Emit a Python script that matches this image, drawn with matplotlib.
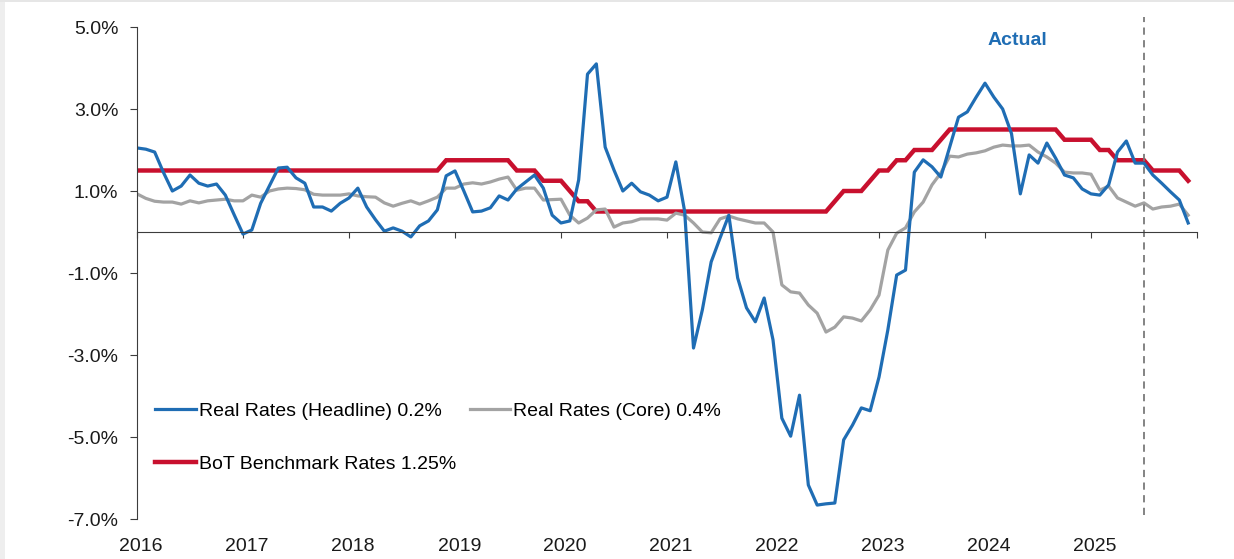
import matplotlib
matplotlib.use("Agg")
import matplotlib.pyplot as plt
from matplotlib.patches import Rectangle
import numpy as np

plt.rcParams['font.family'] = ['Liberation Sans', 'DejaVu Sans']

# monthly values, Jan 2016 .. Dec 2025 (%)
headline = [
    2.05, 2.02, 1.95, 1.45, 1.00, 1.12, 1.39, 1.19, 1.12, 1.17, 0.90, 0.42,   # 2016
    -0.05, 0.05, 0.70, 1.13, 1.56, 1.58, 1.32, 1.19, 0.61, 0.61, 0.51, 0.70,  # 2017
    0.83, 1.07, 0.61, 0.30, 0.02, 0.10, 0.02, -0.12, 0.15, 0.27, 0.54, 1.37,  # 2018
    1.49, 1.00, 0.49, 0.51, 0.59, 0.88, 0.78, 1.05, 1.22, 1.39, 1.07, 0.41,   # 2019
    0.22, 0.27, 1.27, 3.85, 4.10, 2.07, 1.51, 1.00, 1.19, 0.98, 0.90, 0.76,   # 2020
    0.85, 1.71, 0.50, -2.83, -1.90, -0.73, -0.15, 0.41, -1.12, -1.85, -2.19, -1.61,  # 2021
    -2.63, -4.54, -4.98, -3.98, -6.17, -6.66, -6.63, -6.61, -5.07, -4.71, -4.29, -4.36,  # 2022
    -3.54, -2.39, -1.05, -0.93, 1.46, 1.76, 1.59, 1.34, 2.07, 2.80, 2.93, 3.29,  # 2023
    3.63, 3.29, 3.00, 2.40, 0.93, 1.88, 1.68, 2.17, 1.80, 1.39, 1.32, 1.05,   # 2024
    0.93, 0.90, 1.15, 1.95, 2.22, 1.68, 1.68, 1.39, 1.19, 0.98, 0.78, 0.22,   # 2025
]
core = [
    0.93, 0.82, 0.75, 0.73, 0.73, 0.68, 0.76, 0.71, 0.76, 0.78, 0.80, 0.76,   # 2016
    0.76, 0.90, 0.85, 1.00, 1.05, 1.07, 1.06, 1.03, 0.92, 0.90, 0.90, 0.90,   # 2017
    0.93, 0.88, 0.86, 0.85, 0.71, 0.63, 0.70, 0.76, 0.68, 0.76, 0.85, 1.07,   # 2018
    1.07, 1.17, 1.20, 1.17, 1.22, 1.29, 1.34, 1.02, 1.07, 1.07, 0.78, 0.79,   # 2019
    0.80, 0.41, 0.22, 0.34, 0.54, 0.56, 0.12, 0.22, 0.25, 0.32, 0.32, 0.32,   # 2020
    0.29, 0.46, 0.41, 0.22, 0.00, -0.02, 0.32, 0.39, 0.32, 0.27, 0.22, 0.22,  # 2021
    0.00, -1.29, -1.46, -1.49, -1.78, -1.98, -2.44, -2.32, -2.07, -2.10, -2.17, -1.90,  # 2022
    -1.54, -0.44, -0.03, 0.10, 0.49, 0.73, 1.15, 1.44, 1.85, 1.83, 1.90, 1.93,  # 2023
    1.98, 2.07, 2.12, 2.10, 2.10, 2.12, 1.95, 1.83, 1.68, 1.46, 1.44, 1.44,   # 2024
    1.41, 1.02, 1.12, 0.83, 0.73, 0.63, 0.71, 0.56, 0.61, 0.63, 0.68, 0.41,   # 2025
]
bot_rate = [
    1.50, 1.50, 1.50, 1.50, 1.50, 1.50, 1.50, 1.50, 1.50, 1.50, 1.50, 1.50,   # 2016
    1.50, 1.50, 1.50, 1.50, 1.50, 1.50, 1.50, 1.50, 1.50, 1.50, 1.50, 1.50,   # 2017
    1.50, 1.50, 1.50, 1.50, 1.50, 1.50, 1.50, 1.50, 1.50, 1.50, 1.50, 1.75,   # 2018
    1.75, 1.75, 1.75, 1.75, 1.75, 1.75, 1.75, 1.50, 1.50, 1.50, 1.25, 1.25,   # 2019
    1.25, 1.00, 0.75, 0.75, 0.50, 0.50, 0.50, 0.50, 0.50, 0.50, 0.50, 0.50,   # 2020
    0.50, 0.50, 0.50, 0.50, 0.50, 0.50, 0.50, 0.50, 0.50, 0.50, 0.50, 0.50,   # 2021
    0.50, 0.50, 0.50, 0.50, 0.50, 0.50, 0.50, 0.75, 1.00, 1.00, 1.00, 1.25,   # 2022
    1.50, 1.50, 1.75, 1.75, 2.00, 2.00, 2.00, 2.25, 2.50, 2.50, 2.50, 2.50,   # 2023
    2.50, 2.50, 2.50, 2.50, 2.50, 2.50, 2.50, 2.50, 2.50, 2.25, 2.25, 2.25,   # 2024
    2.25, 2.00, 2.00, 1.75, 1.75, 1.75, 1.75, 1.50, 1.50, 1.50, 1.50, 1.25,   # 2025
]
years = [2016, 2017, 2018, 2019, 2020, 2021, 2022, 2023, 2024, 2025]
y_ticks = [-7.0, -5.0, -3.0, -1.0, 1.0, 3.0, 5.0]
actual_end = 2025.5

BLUE = '#1f6db4'
GREY = '#a3a3a3'
RED = '#c8102e'
AXIS = '#3c3c3c'

x = 2016 + np.arange(len(headline)) / 12

fig = plt.figure(figsize=(12.34, 5.59), dpi=100)
ax = fig.add_axes([137 / 1234, 1 - 519 / 559, 1060 / 1234, 492 / 559])

ax.plot(x, bot_rate, color=RED, lw=3.2, solid_joinstyle='miter', label='BoT Benchmark Rates 1.25%')
ax.plot(x, core, color=GREY, lw=2.3, label='Real Rates (Core) 0.4%')
ax.plot(x, headline, color=BLUE, lw=2.3, label='Real Rates (Headline) 0.2%')

ax.vlines(actual_end, -6.9, 5.25, colors='#7a7a7a', lw=1.3, linestyles=(0, (4, 3)), clip_on=False)
ax.text(2024.31, 4.68, 'Actual', color=BLUE, fontsize=14, fontweight='bold', ha='center', va='center')

ax.set_xlim(2016, 2026)
ax.set_ylim(-7, 5)

for side in ['top', 'right']:
    ax.spines[side].set_visible(False)
ax.spines['bottom'].set_position(('data', 0))
ax.spines['bottom'].set_color(AXIS)
ax.spines['left'].set_color(AXIS)

ax.set_xticks(years + [2026])
ax.tick_params(axis='x', direction='out', length=4, color=AXIS, labelbottom=False)
ax.set_yticks(y_ticks, ['%.1f%%' % v for v in y_ticks])
ax.tick_params(axis='y', direction='out', length=5, pad=8.5, color=AXIS, labelsize=14, labelcolor='#1a1a1a')

sec = ax.secondary_xaxis(0.0)
sec.set_xticks([yr + 0.04 for yr in years], [str(yr) for yr in years])
sec.spines['bottom'].set_visible(False)
sec.tick_params(length=0, pad=14, labelsize=14, labelcolor='#1a1a1a')

handles, labels = ax.get_legend_handles_labels()
order = [2, 0, 1]
ax.legend([handles[i] for i in order], [labels[i] for i in order],
          ncol=2, loc='upper left', bbox_to_anchor=(0.017, 0.238), frameon=False,
          fontsize=14, handlelength=2.1, handletextpad=0.15, columnspacing=0.7,
          labelspacing=1.86, borderpad=0, borderaxespad=0)

# light frame strips of the original image
fig.add_artist(Rectangle((0, 0), 5 / 1234, 1, transform=fig.transFigure, color='#eeeeee', lw=0))
fig.add_artist(Rectangle((0, 1 - 2 / 559), 1, 2 / 559, transform=fig.transFigure, color='#e6e6e6', lw=0))

fig.savefig('out.png', dpi=100)
